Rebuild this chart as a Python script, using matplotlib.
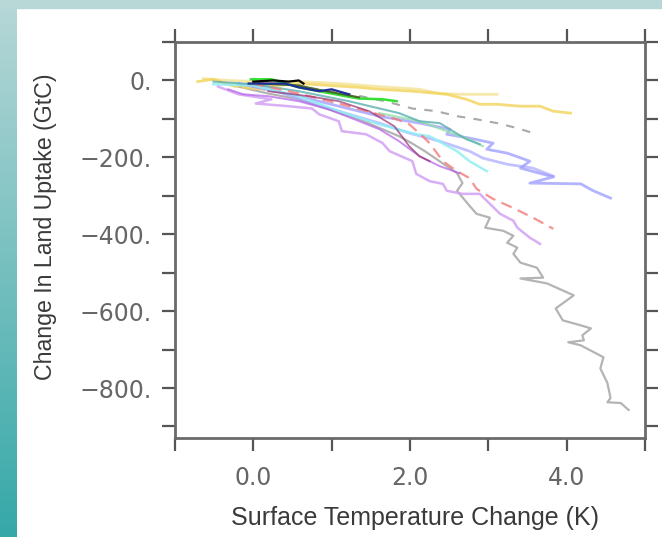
import numpy as np
import matplotlib
matplotlib.use("Agg")
import matplotlib.pyplot as plt
from matplotlib.colors import LinearSegmentedColormap
from matplotlib.patches import Rectangle

# Surface temperature change (K) vs change in land uptake (GtC), one run per model
gray_x = [-0.19, 0.19, 0.58, 0.96, 1.35, 1.65, 1.86, 2.02, 2.19, 2.47, 2.60, 2.67, 2.60, 2.76,
          2.85, 3.02, 2.96, 3.19, 3.32, 3.24, 3.37, 3.32, 3.41, 3.62, 3.70, 3.41, 3.75, 4.09,
          3.86, 3.95, 4.18, 4.31, 4.20, 4.22, 4.02, 4.18, 4.47, 4.43, 4.52, 4.56, 4.52, 4.69, 4.79]
gray_y = [-16, -34, -49, -75, -101, -127, -145, -163, -184, -223, -241, -267, -287, -326,
          -347, -357, -383, -391, -404, -422, -435, -451, -474, -487, -513, -515, -528, -559,
          -593, -624, -637, -645, -663, -676, -681, -689, -720, -749, -787, -826, -837, -839, -857]

gold_x = [-0.71, -0.51, -0.23, -0.06, 0.15, -0.13, 0.32, 0.58, 0.96, 1.35, 1.61, 2.03, 2.47,
          2.72, 2.89, 3.11, 3.41, 3.66, 3.83, 4.05]
gold_y = [-3, 3, -16, -8, -23, -18, -13, -8, -13, -18, -23, -28, -36, -49, -62, -62, -67, -67, -80, -85]

pale_x = [-0.64, -0.32, 0.06, 0.58, 1.09, 1.61, 2.12, 2.38, 2.63, 3.11]
pale_y = [5, 0, -3, -3, -8, -16, -23, -34, -36, -36]

dash_x = [0.3, 0.8, 1.3, 1.7, 2.03, 2.34, 2.60, 2.85, 3.11, 3.37, 3.62]
dash_y = [-8, -22, -38, -55, -73, -80, -93, -101, -111, -124, -140]

green_x = [-0.03, 0.23, 0.58, 1.18, 1.35, 1.65, 1.83]
green_y = [3, 3, -18, -41, -47, -49, -54]

blue_x = [-0.19, 0.58, 1.09, 1.61, 2.12, 2.51, 2.47, 2.76, 3.06, 2.98, 3.24, 3.53, 3.41, 3.83,
          3.53, 4.18, 4.34, 4.56]
blue_y = [-8, -41, -67, -93, -111, -127, -140, -150, -163, -179, -189, -210, -228, -251,
          -267, -269, -287, -306]

blue2_x = [0.06, 0.58, 1.09, 1.61, 1.99, 2.38, 2.76, 2.93, 3.24, 3.57, 3.83]
blue2_y = [-8, -49, -80, -111, -137, -158, -184, -202, -218, -228, -249]

cyan_x = [-0.51, 0.0, 0.58, 1.09, 1.61, 2.08, 2.25, 2.60, 2.76, 2.98]
cyan_y = [-10, -13, -41, -80, -114, -140, -145, -184, -210, -236]

red_x = [0.0, 0.58, 1.22, 1.83, 1.99, 2.16, 2.25, 2.42, 2.60, 2.76, 2.85, 3.06, 3.32, 3.57, 3.83]
red_y = [-8, -34, -67, -101, -114, -145, -163, -210, -236, -254, -282, -308, -332, -357, -386]

lav_x = [-0.45, -0.19, 0.23, 0.03, 0.45, 0.75, 0.84, 1.09, 1.13, 1.44, 1.65, 1.74, 2.03, 2.08,
         2.25, 2.42, 2.47, 2.67, 2.89, 3.02, 3.15, 3.32, 3.37, 3.53, 3.66]
lav_y = [-16, -36, -49, -60, -67, -73, -88, -106, -132, -140, -163, -184, -210, -243,
         -262, -269, -287, -295, -295, -321, -347, -365, -383, -409, -425]

purple_x = [-0.32, -0.13, 0.19, 0.58, 0.96, 1.29, 1.61, 1.86, 2.12, 2.38, 2.63]
purple_y = [-23, -36, -41, -54, -75, -101, -127, -158, -197, -223, -241]

teal_x = [-0.51, 0.0, 0.58, 1.22, 1.86, 2.12, 2.38, 2.72, 2.89]
teal_y = [-3, -10, -28, -54, -85, -106, -111, -153, -166]

lgreen_x = [1.61, 2.12, 2.47, 2.76, 2.93]
lgreen_y = [-85, -106, -132, -153, -171]

maroon_x = [0.19, 0.71, 1.09, 1.48, 1.80, 1.99, 2.12, 2.25]
maroon_y = [-28, -41, -54, -80, -119, -171, -197, -210]

dgreen_x = [0.06, 0.58, 0.80, 1.09, 1.35]
dgreen_y = [-8, -13, -23, -34, -44]

navy_x = [-0.06, 0.41, 0.58, 0.84, 1.00, 1.22]
navy_y = [-8, -8, -18, -28, -23, -36]

black_x = [0.0, 0.26, 0.45, 0.58, 0.64]
black_y = [-3, 0, -3, 0, -8]

y_major = [0, -200, -400, -600, -800]
y_labels = ["0.", "\u2212200.", "\u2212400.", "\u2212600.", "\u2212800."]
y_minor = [100, -100, -300, -500, -700, -900]
x_major = [0, 2, 4]
x_labels = ["0.0", "2.0", "4.0"]
x_minor = [-1, 1, 3, 5]

plt.rcParams['font.family'] = ['Liberation Sans', 'DejaVu Sans']

fig = plt.figure(figsize=(6.62, 5.37), dpi=100, facecolor='white')

# teal frame of the slide
strip = fig.add_axes([0, 0, 17 / 662, 1])
grad = np.linspace(0, 1, 256).reshape(-1, 1)
teal = LinearSegmentedColormap.from_list('teal', ['#b7d7d7', '#36a8a8'])
strip.imshow(grad, aspect='auto', cmap=teal)
strip.set_axis_off()
fig.add_artist(Rectangle((0, 1 - 8 / 537), 1, 8 / 537, transform=fig.transFigure,
                         color='#b8d8d8', zorder=5))

ax = fig.add_axes([175 / 662, 99 / 537, 470 / 662, 396 / 537])

ax.plot(gray_x, gray_y, color='#b4b4b4', lw=1.6)
ax.plot(dash_x, dash_y, color='#a8a8a8', lw=1.5, dashes=(4, 4))
ax.plot(pale_x, pale_y, color='#f6e8a8', lw=2.0)
ax.plot(gold_x, gold_y, color='#f2d45a', lw=2.0, alpha=0.8)
ax.plot(blue2_x, blue2_y, color='#a8a8ff', lw=2.0, alpha=0.7)
ax.plot(blue_x, blue_y, color='#9a9aff', lw=2.0, alpha=0.75)
ax.plot(lgreen_x, lgreen_y, color='#90e0a8', lw=1.5, alpha=0.8)
ax.plot(cyan_x, cyan_y, color='#90eef4', lw=1.8, alpha=0.85)
ax.plot(teal_x, teal_y, color='#5ab0b0', lw=1.5, alpha=0.8)
ax.plot(red_x, red_y, color='#f47a7a', lw=1.6, alpha=0.8, dashes=(5, 3))
ax.plot(lav_x, lav_y, color='#d2a0f4', lw=1.8, alpha=0.85)
ax.plot(purple_x, purple_y, color='#b45ee8', lw=1.4, alpha=0.7)
ax.plot(maroon_x, maroon_y, color='#983070', lw=1.3, alpha=0.7)
ax.plot(green_x, green_y, color='#34e034', lw=1.8)
ax.plot(dgreen_x, dgreen_y, color='#4a6a2a', lw=1.5)
ax.plot(navy_x, navy_y, color='#1e2e98', lw=1.6)
ax.plot(black_x, black_y, color='black', lw=1.6)

ax.set_xlim(-1, 5)
ax.set_ylim(-930, 100)
ax.set_xticks(x_major)
ax.set_xticklabels(x_labels)
ax.set_xticks(x_minor, minor=True)
ax.set_yticks(y_major)
ax.set_yticklabels(y_labels)
ax.set_yticks(y_minor, minor=True)

for s in ax.spines.values():
    s.set_color('#6a6a6a')
    s.set_linewidth(2)
ax.tick_params(which='both', direction='out', length=9.5, width=1.6, color='#555555',
               top=True, right=True, labeltop=False, labelright=False)
ax.tick_params(axis='both', which='major', labelsize=17, labelcolor='#666666')
ax.tick_params(axis='x', which='major', pad=11)
ax.tick_params(axis='y', which='major', pad=7)
for lab in ax.get_xticklabels() + ax.get_yticklabels():
    lab.set_family(['DejaVu Sans'])

ax.set_xlabel("Surface Temperature Change (K)", fontsize=18, color='#3a3a3a')
ax.set_ylabel("Change In Land Uptake (GtC)", fontsize=16.7, color='#3a3a3a')
ax.xaxis.set_label_coords(0.51, -0.172)
ax.yaxis.set_label_coords(-0.25, 0.533)

fig.savefig("out.png", dpi=100, facecolor='white')
